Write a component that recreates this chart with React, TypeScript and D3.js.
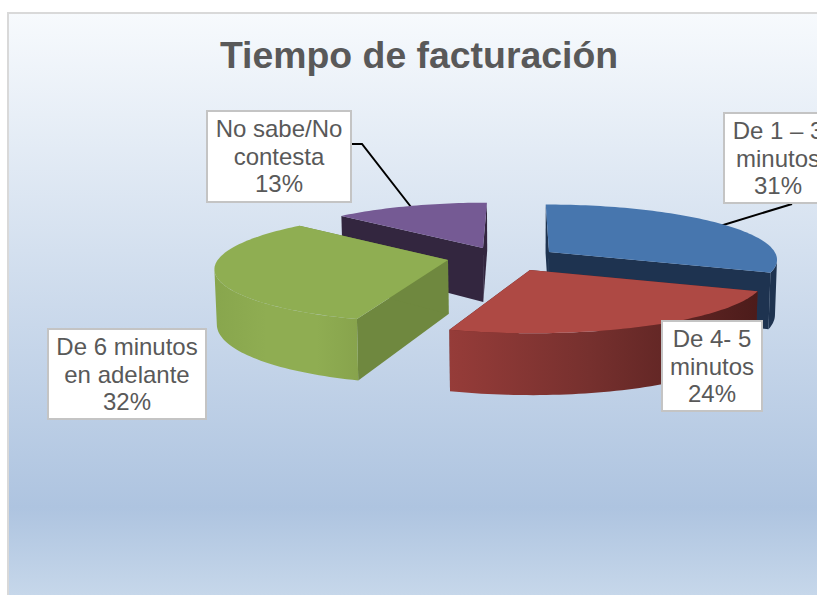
import React from "react";
import * as d3 from "d3";

// Data
const categories = ["De 1 – 3 minutos", "De 4- 5 minutos", "De 6 minutos en adelante", "No sabe/No contesta"];
const values = [31, 24, 32, 13];
const titleText = "Tiempo de facturación";
const labelLines = [
  ["De 1 – 3", "minutos", "31%"],
  ["De 4- 5", "minutos", "24%"],
  ["De 6 minutos", "en adelante", "32%"],
  ["No sabe/No", "contesta", "13%"],
];

// Layout of the exploded perspective pie
const W = 817, H = 595;
const apexX = [549, 530, 448, 483];
const apexY = [252, 270, 260, 248];
const radiusFactor = [0.99, 1.02, 1.01, 0.94];
const R = 228, RY = 54, VX = 520, K = 0.127, DEPTH = 54;
const topColors = ["#4776ae", "#ae4944", "#8fae52", "#755a94"];
const sideColors = ["#1e3350", "#5a201f", "#6f883f", "#33263f"];
const drawOrder = [3, 2, 0, 1];
const boxes = [
  { x: 724, y: 113, w: 108, h: 90 },
  { x: 662, y: 321, w: 100, h: 90 },
  { x: 48, y: 329, w: 158, h: 90 },
  { x: 207, y: 111, w: 144, h: 91 },
];
const leaders: [number, number][][] = [
  [[792, 204], [720, 226]],
  [],
  [],
  [[351, 144], [362, 144], [411, 207]],
];

type P = [number, number];
const pie = d3.pie<number>().sort(null).value((d) => d);
const arcs = pie(values);
const line = d3.line<P>();

function project(i: number, a: number): P {
  const u = Math.sin(a) * radiusFactor[i];
  const v = Math.cos(a) * radiusFactor[i];
  const s = 1 / (1 + K * v);
  return [VX + (apexX[i] + R * u - VX) * s, apexY[i] - RY * v * s];
}
function apex(i: number): P {
  return [apexX[i], apexY[i]];
}
function scaleAt(a: number): number {
  return 1 / (1 + K * Math.cos(a));
}
function drop(p: P, a: number | null): P {
  const s = a === null ? 1 : scaleAt(a);
  return [VX + (p[0] - VX) * 0.992, p[1] + DEPTH * s];
}
function sampleArc(i: number, a0: number, a1: number): { p: P; a: number }[] {
  const n = Math.max(2, Math.ceil(Math.abs(a1 - a0) * 40));
  return d3.range(n + 1).map((k) => {
    const a = a0 + ((a1 - a0) * k) / n;
    return { p: project(i, a), a };
  });
}
// Angle at which the rim reaches its outermost screen x on either side
function silhouette(i: number, side: "left" | "right"): number {
  const samples = side === "right" ? sampleArc(i, 0, Math.PI) : sampleArc(i, Math.PI, 2 * Math.PI);
  const best =
    side === "right"
      ? d3.greatest(samples, (d) => d.p[0])
      : d3.least(samples, (d) => d.p[0]);
  return best!.a;
}
function Slice({ i }: { i: number }) {
  const { startAngle: a0, endAngle: a1 } = arcs[i];
  const top = sampleArc(i, a0, a1).map((d) => d.p);
  const topPath = line([apex(i), ...top]) + "Z";
  const face = (a: number) => {
    const p = project(i, a);
    const q = apex(i);
    return line([q, p, drop(p, a), drop(q, null)]) + "Z";
  };
  // outer wall: only the part between the two silhouette points
  const fa0 = Math.max(a0, silhouette(i, "right"));
  const fa1 = Math.min(a1, silhouette(i, "left"));
  let wall: string | null = null;
  if (fa1 > fa0) {
    const pts = sampleArc(i, fa0, fa1);
    wall = line([...pts.map((d) => d.p), ...pts.slice().reverse().map((d) => drop(d.p, d.a))]) + "Z";
  }
  const wallFill = i === 0 ? sideColors[0] : `url(#wall${i})`;
  return (
    <g>
      <path d={face(a0)} fill={sideColors[i]} />
      <path d={face(a1)} fill={sideColors[i]} />
      {wall && <path d={wall} fill={wallFill} />}
      <path d={topPath} fill={topColors[i]} />
    </g>
  );
}

export default function App() {
  return (
    <svg
      width={W}
      height={H}
      viewBox={`0 0 ${W} ${H}`}
      style={{ position: "absolute", left: 0, top: 0, display: "block", background: "#fff" }}
      fontFamily="'Liberation Sans', Arial, sans-serif"
    >
      <defs>
        <linearGradient id="bg" gradientUnits="userSpaceOnUse" x1="0" y1="13" x2="0" y2="595">
          <stop offset="0" stopColor="#f7fafd" />
          <stop offset="0.85" stopColor="#aec4e0" />
          <stop offset="1" stopColor="#c6d7ea" />
        </linearGradient>
        <linearGradient id="wall1" gradientUnits="userSpaceOnUse" x1="449" y1="0" x2="762" y2="0">
          <stop offset="0" stopColor="#963c39" />
          <stop offset="0.45" stopColor="#76302e" />
          <stop offset="1" stopColor="#4b1b1a" />
        </linearGradient>
        <linearGradient id="wall2" gradientUnits="userSpaceOnUse" x1="216" y1="0" x2="360" y2="0">
          <stop offset="0" stopColor="#88a64d" />
          <stop offset="0.35" stopColor="#8fad52" />
          <stop offset="0.7" stopColor="#8fad52" />
          <stop offset="1" stopColor="#87a34c" />
        </linearGradient>
      </defs>
      <rect x={8} y={13} width={W + 20} height={H + 20} fill="url(#bg)" stroke="#d9d9d9" strokeWidth={2} />
      <text x={419} y={68} textAnchor="middle" fontSize={37.4} fontWeight="bold" fill="#595959">
        {titleText}
      </text>
      {leaders.map((pts, i) =>
        pts.length ? <path key={i} d={line(pts as P[]) as string} fill="none" stroke="#000" strokeWidth={2} /> : null
      )}
      {drawOrder.map((i) => (
        <Slice key={categories[i]} i={i} />
      ))}
      {boxes.map((b, i) => (
        <g key={categories[i]}>
          <rect x={b.x} y={b.y} width={b.w} height={b.h} fill="#fff" stroke="#c4c4c4" strokeWidth={2} />
          {labelLines[i].map((t, k) => (
            <text key={k} x={b.x + b.w / 2} y={b.y + 26 + k * 27.6} textAnchor="middle" fontSize={24} fill="#595959">
              {t}
            </text>
          ))}
        </g>
      ))}
    </svg>
  );
}
